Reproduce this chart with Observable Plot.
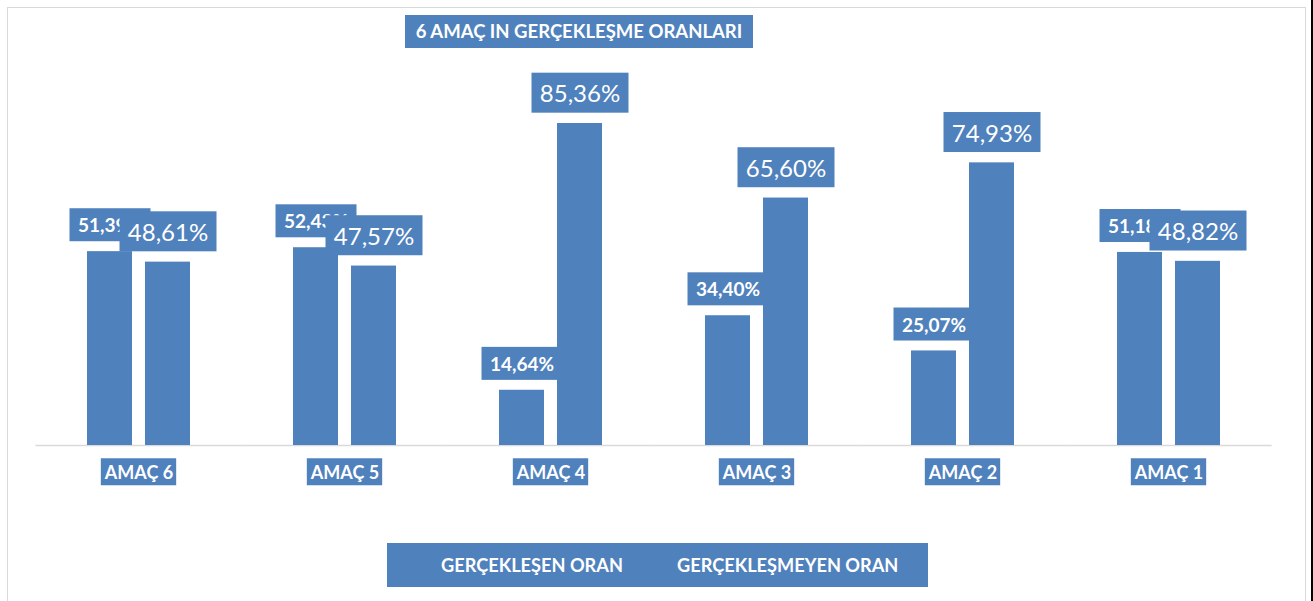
<!DOCTYPE html>
<html>
<head>
<meta charset="utf-8">
<script src="https://cdn.jsdelivr.net/npm/d3@7"></script>
<script src="https://cdn.jsdelivr.net/npm/@observablehq/plot@0.6"></script>
<style>
  body { margin: 0; background: #fff; font-family: Lato, "Open Sans", sans-serif; }
  #wrap { position: relative; width: 1313px; height: 601px; overflow: hidden; background: #fff; }
  #border { position: absolute; left: 7px; top: 7px; width: 1297px; height: 700px; border: 1.5px solid #d9d9d9; }
  #edge { position: absolute; left: 1311px; top: 0; width: 2px; height: 601px; background: #000; }
  #chart { position: absolute; left: 0; top: 0; }
  #title { position: absolute; left: 405px; top: 15px; width: 348px; height: 33px; background: #4F81BD; color: #fff;
           font-weight: 700; font-size: 18.5px; line-height: 33px; text-align: center; white-space: nowrap; }
  #legend { position: absolute; left: 387px; top: 543px; width: 541px; height: 44px; background: #4F81BD; color: #fff;
            font-weight: 700; font-size: 18.2px; line-height: 44px; white-space: nowrap; }
  #legend span { position: absolute; top: 0; }
</style>
</head>
<body>
<div id="wrap">
  <div id="border"></div>
  <div id="chart"></div>
  <div id="title"></div>
  <div id="legend"></div>
  <div id="edge"></div>
</div>
<script>
const titleText = "6 AMAÇ IN GERÇEKLEŞME ORANLARI";
const categories = ["AMAÇ 6", "AMAÇ 5", "AMAÇ 4", "AMAÇ 3", "AMAÇ 2", "AMAÇ 1"];
const seriesNames = ["GERÇEKLEŞEN ORAN", "GERÇEKLEŞMEYEN ORAN"];
const gerceklesen = [51.39, 52.43, 14.64, 34.40, 25.07, 51.18];
const gerceklesmeyen = [48.61, 47.57, 85.36, 65.60, 74.93, 48.82];

const BLUE = "#4F81BD";
const fmt = v => v.toFixed(2).replace(".", ",") + "%";

const s1 = categories.map((c, i) => ({cat: c, series: seriesNames[0], value: gerceklesen[i]}));
const s2 = categories.map((c, i) => ({cat: c, series: seriesNames[1], value: gerceklesmeyen[i]}));
const rows = s1.concat(s2);

document.getElementById("title").textContent = titleText;
const legend = document.getElementById("legend");
const legendOffsets = [54, 290];
seriesNames.forEach((s, i) => {
  const sp = document.createElement("span");
  sp.textContent = s;
  sp.style.left = legendOffsets[i] + "px";
  legend.appendChild(sp);
});

const chart = Plot.plot({
  width: 1313,
  height: 500,
  marginLeft: 35,
  marginRight: 40,
  marginTop: 105.5,
  marginBottom: 55,
  style: {fontFamily: "Lato, 'Open Sans', sans-serif", background: "transparent"},
  fx: {domain: categories, paddingInner: 0.49, paddingOuter: 0.245, axis: null, label: null},
  x: {domain: seriesNames, paddingInner: 0.22, paddingOuter: 0, axis: null},
  y: {domain: [0, 90], axis: null},
  marks: [
    Plot.ruleY([0], {stroke: "#d9d9d9", strokeWidth: 1.5, insetLeft: -50.6, insetRight: -50.6}),
    Plot.barY(rows, {fx: "cat", x: "series", y: "value", fill: BLUE}),
    Plot.text(s1, {fx: "cat", x: "series", y: "value", text: d => fmt(d.value), dy: -25.5,
      lineAnchor: "middle", fill: "#fff", fontSize: 19, fontWeight: 700, ariaDescription: "lbl1"}),
    Plot.text(s2, {fx: "cat", x: "series", y: "value", text: d => fmt(d.value), dy: -29,
      lineAnchor: "middle", fill: "#fff", fontSize: 24, fontWeight: 400, ariaDescription: "lbl2"}),
    Plot.text(categories, {fx: d => d, text: d => d, frameAnchor: "bottom", dy: 27.5,
      lineAnchor: "middle", fill: "#fff", fontSize: 18, fontWeight: 700, ariaDescription: "cat"})
  ]
});
document.getElementById("chart").appendChild(chart);

function addBoxes(label, w, h, padX) {
  chart.querySelectorAll(`g[aria-description="${label}"] text`).forEach(t => {
    const b = t.getBBox();
    const ww = w == null ? b.width + 2 * padX : w;
    const r = document.createElementNS("http://www.w3.org/2000/svg", "rect");
    r.setAttribute("x", b.x + b.width / 2 - ww / 2);
    r.setAttribute("y", b.y + b.height / 2 - h / 2);
    r.setAttribute("width", ww);
    r.setAttribute("height", h);
    r.setAttribute("fill", BLUE);
    const tr = t.getAttribute("transform");
    if (tr) r.setAttribute("transform", tr);
    t.parentNode.insertBefore(r, t);
  });
}
addBoxes("lbl1", 81, 33);
addBoxes("lbl2", 97, 40);
addBoxes("cat", null, 27, 3);
</script>
</body>
</html>
